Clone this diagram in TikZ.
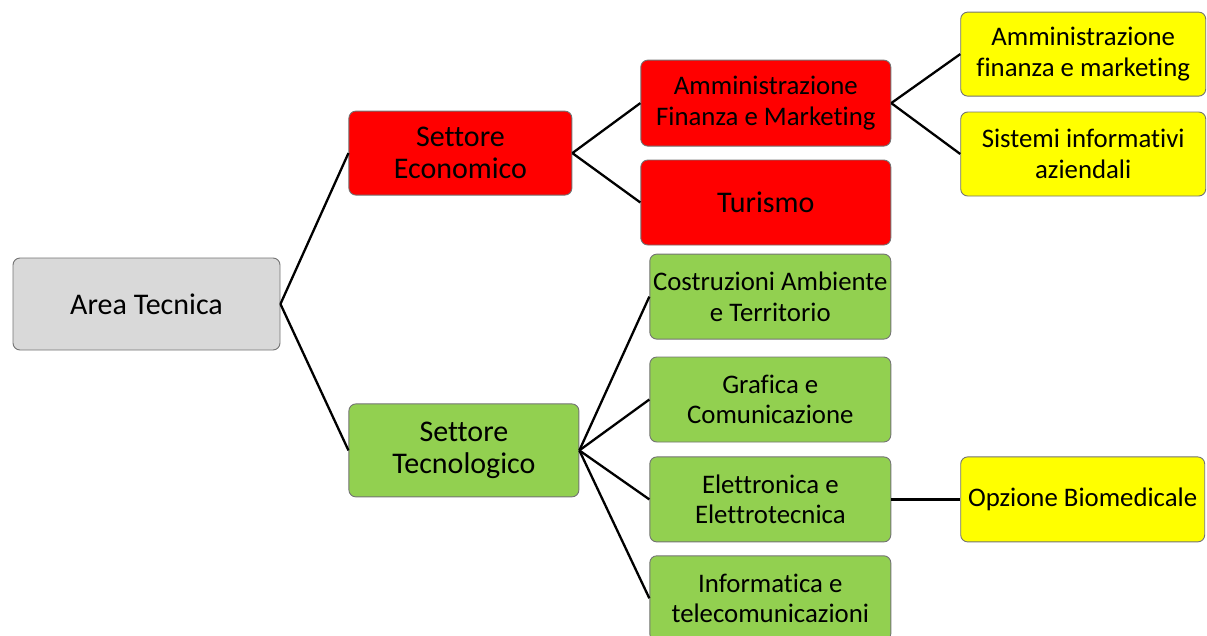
\documentclass[tikz,border=0pt]{standalone}
\usepackage{fontspec}
\setmainfont{Carlito}[Ligatures=CommonOff]
\usetikzlibrary{positioning}
\definecolor{rosso}{HTML}{FF0000}
\definecolor{verde}{HTML}{92D050}
\definecolor{giallo}{HTML}{FFFF00}
\definecolor{grigio}{HTML}{D9D9D9}
\begin{document}
\begin{tikzpicture}[x=1pt,y=1pt,
  box/.style = {draw=black!55, line width=0.9pt, rounded corners=7pt, align=center, inner sep=0pt, font=\fontsize{26.8}{30.5}\selectfont},
  big/.style = {font=\fontsize{30}{31.5}\selectfont},
  ecobox/.style = {box, fill=rosso},
  tecbox/.style = {box, fill=verde, minimum width=241pt, minimum height=85pt},
  optbox/.style = {box, fill=giallo, minimum width=245pt, minimum height=84pt},
  link/.style = {draw=black, line width=2.3pt}]
\useasboundingbox (0,0) rectangle (1207,-635);
\node[box, big, fill=grigio, minimum width=267pt, minimum height=92pt] (area) at (146.5,-304) {Area Tecnica};
\node[ecobox, big, minimum width=223pt, minimum height=84pt] (se) [above right=62pt and 68pt of area] {Settore\\Economico};
\node[box, big, fill=verde, minimum width=230pt, minimum height=93pt] (st) [below right=53pt and 68pt of area] {Settore\\Tecnologico};
\node[ecobox, minimum width=250pt, minimum height=86pt] (afm) [right=68pt of se, yshift=50pt] {Amministrazione\\Finanza e Marketing};
\node[ecobox, big, minimum width=250pt, minimum height=85pt] (tur) [below=13pt of afm] {Turismo};
\node[optbox] (afm2) [right=69pt of afm, yshift=49pt] {Amministrazione\\finanza e marketing};
\node[optbox] (sia) [below=15pt of afm2] {Sistemi informativi\\aziendali};
\node[tecbox] (elet) [right=70pt of st, yshift=-49pt] {Elettronica e\\Elettrotecnica};
\node[tecbox] (graf) [above=14pt of elet] {Grafica e\\Comunicazione};
\node[tecbox] (cat) [above=17pt of graf] {Costruzioni Ambiente\\e Territorio};
\node[tecbox] (inf) [below=13pt of elet] {Informatica e\\telecomunicazioni};
\node[optbox, minimum width=244pt, minimum height=85pt] (bio) [right=69pt of elet] {Opzione Biomedicale};
\draw[link] (area.east) -- (se.west);
\draw[link] (area.east) -- (st.west);
\draw[link] (se.east) -- (afm.west);
\draw[link] (se.east) -- (tur.west);
\draw[link] (afm.east) -- (afm2.west);
\draw[link] (afm.east) -- (sia.west);
\draw[link] (st.east) -- (cat.west);
\draw[link] (st.east) -- (graf.west);
\draw[link] (st.east) -- (elet.west);
\draw[link] (st.east) -- (inf.west);
\draw[link] (elet.east) -- (bio.west);
\end{tikzpicture}
\end{document}
